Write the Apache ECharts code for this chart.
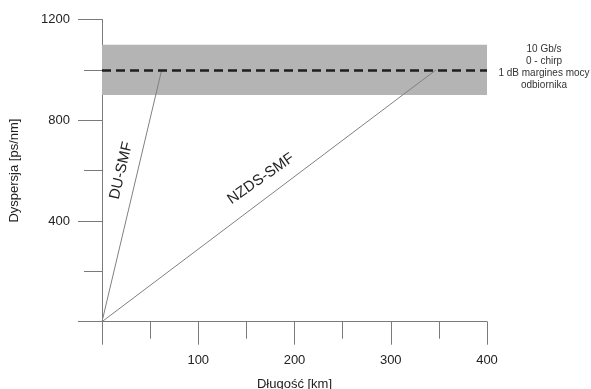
<!DOCTYPE html>
<html>
<head>
<meta charset="utf-8">
<script src="https://cdn.jsdelivr.net/npm/echarts@6/dist/echarts.min.js"></script>
<style>
  html, body { margin: 0; padding: 0; background: #fff; }
  #chart { width: 591px; height: 389px; }
</style>
</head>
<body>
<div id="chart"></div>
<script>
// fibre lines: [length km, dispersion ps/nm]
var duSmf = [[0, 0], [62, 1000]];
var nzdsSmf = [[0, 0], [347, 1000]];

// dispersion limit and tolerance band
var limit = 1000;
var band = [900, 1100];

// label anchors along the lines (data coords)
var duLabel = [20, 600];
var nzdsLabel = [165, 567];

var note = ['10 Gb/s', '0 - chirp', '1 dB margines mocy', 'odbiornika'];

var font = 'Liberation Sans, Arial, sans-serif';
var axisGray = '#7a7a7a';
var lineGray = '#808080';

var chart = echarts.init(document.getElementById('chart'));

chart.setOption({
    animation: false,
    grid: { left: 102, right: 104, top: 19.5, bottom: 67.3, outerBoundsMode: 'none', containLabel: false },
    xAxis: {
        type: 'value',
        min: 0,
        max: 400,
        interval: 100,
        name: 'Długość [km]',
        nameLocation: 'middle',
        nameGap: 56,
        nameTextStyle: { fontFamily: font, fontSize: 13, color: '#222' },
        axisLine: { lineStyle: { color: axisGray, width: 1 } },
        axisTick: { length: 23, lineStyle: { color: axisGray } },
        minorTick: { show: true, splitNumber: 2, length: 17, lineStyle: { color: axisGray } },
        axisLabel: {
            margin: 32,
            fontFamily: font,
            fontSize: 13,
            color: '#222',
            formatter: function (v) { return v === 0 ? '' : v; }
        },
        splitLine: { show: false }
    },
    yAxis: {
        type: 'value',
        min: 0,
        max: 1200,
        interval: 400,
        name: 'Dyspersja [ps/nm]',
        nameLocation: 'middle',
        nameGap: 81,
        nameTextStyle: { fontFamily: font, fontSize: 13, color: '#222' },
        axisLine: { show: true, lineStyle: { color: axisGray, width: 1 } },
        axisTick: { show: true, length: 24, lineStyle: { color: axisGray } },
        minorTick: { show: true, splitNumber: 2, length: 18, lineStyle: { color: axisGray } },
        axisLabel: {
            margin: 32,
            fontFamily: font,
            fontSize: 13,
            color: '#222',
            formatter: function (v) { return v === 0 ? '' : v; }
        },
        splitLine: { show: false }
    },
    series: [
        {
            type: 'line',
            data: duSmf,
            symbol: 'none',
            clip: false,
            z: 3,
            lineStyle: { color: lineGray, width: 1 },
            markArea: {
                silent: true,
                itemStyle: { color: '#b4b4b4' },
                data: [[{ coord: [0, band[0]] }, { coord: [400, band[1]] }]]
            },
            markLine: {
                silent: true,
                symbol: 'none',
                label: { show: false },
                lineStyle: { color: '#1e1e1e', width: 2.5, type: [9, 5] },
                data: [{ yAxis: limit }]
            },
            markPoint: {
                symbolSize: 0,
                label: {
                    show: true,
                    position: 'inside',
                    rotate: 76.6,
                    fontFamily: font,
                    fontSize: 15,
                    color: '#222',
                    formatter: '{b}'
                },
                data: [{ name: 'DU-SMF', coord: duLabel }]
            }
        },
        {
            type: 'line',
            data: nzdsSmf,
            symbol: 'none',
            z: 3,
            lineStyle: { color: lineGray, width: 1 },
            markPoint: {
                symbolSize: 0,
                label: {
                    show: true,
                    position: 'inside',
                    rotate: 35,
                    fontFamily: font,
                    fontSize: 15,
                    color: '#222',
                    formatter: '{b}'
                },
                data: [{ name: 'NZDS-SMF', coord: nzdsLabel }]
            }
        }
    ],
    graphic: [{
        type: 'text',
        x: 544,
        y: 43,
        style: {
            text: note.join('\n'),
            font: '10px ' + font,
            fill: '#333',
            align: 'center',
            lineHeight: 12.2
        }
    }]
});
</script>
</body>
</html>
